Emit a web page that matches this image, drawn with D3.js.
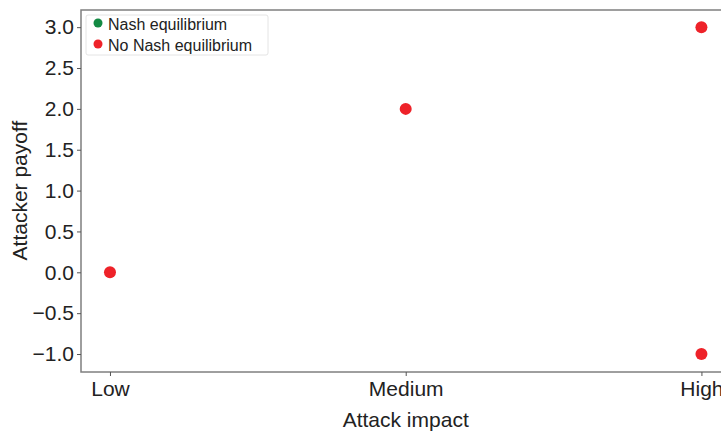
<!DOCTYPE html>
<html>
<head>
<meta charset="utf-8">
<script src="https://cdn.jsdelivr.net/npm/d3@7"></script>
<style>
  body { margin: 0; background: #fff; }
  svg { display: block; }
</style>
</head>
<body>
<div id="chart"></div>
<script>
// data
const impactLevels = ['Low', 'Medium', 'High'];
const pointImpact = ['Low', 'Medium', 'High', 'High'];
const pointPayoff = [0, 2, 3, -1];
const pointNash = [false, false, false, false];
const yTicks = [-1.0, -0.5, 0.0, 0.5, 1.0, 1.5, 2.0, 2.5, 3.0];
const legendLabels = ['Nash equilibrium', 'No Nash equilibrium'];
const legendColors = ['#138a43', '#ee2229'];

const WIDTH = 721;
const HEIGHT = 432;
const MARGIN = { top: 10, right: -10, bottom: 60, left: 81 };
const plotW = WIDTH - MARGIN.left - MARGIN.right;
const plotH = HEIGHT - MARGIN.top - MARGIN.bottom;
const FONT = 21;

const svg = d3.select('#chart')
    .append('svg')
        .attr('width', WIDTH)
        .attr('height', HEIGHT)
        .style('font-family', '"Liberation Sans", Arial, sans-serif');

const g = svg.append('g')
    .attr('transform', 'translate(' + MARGIN.left + ',' + MARGIN.top + ')');

const x = d3.scaleLinear()
    .domain([-0.098, 2.1])
    .range([0, plotW]);

const y = d3.scaleLinear()
    .domain([-1.22, 3.21])
    .range([plotH, 0]);

// frame
g.append('rect')
    .attr('x', 0)
    .attr('y', 0)
    .attr('width', plotW)
    .attr('height', plotH)
    .attr('fill', 'none')
    .attr('stroke', '#7f7f7f')
    .attr('stroke-width', 1.5);

// x axis
const xAxis = d3.axisBottom(x)
    .tickValues(impactLevels.map((d, i) => i))
    .tickFormat(i => impactLevels[i])
    .tickSizeOuter(0)
    .tickSize(4)
    .tickPadding(5);

const xg = g.append('g')
    .attr('transform', 'translate(0,' + plotH + ')')
    .call(xAxis);
xg.select('.domain').remove();
xg.selectAll('.tick line').attr('stroke', '#555');
xg.selectAll('.tick text')
    .attr('fill', '#222')
    .attr('font-size', FONT);

g.append('text')
    .text('Attack impact')
    .attr('text-anchor', 'middle')
    .attr('fill', '#222')
    .attr('font-size', FONT)
    .attr('x', x(1))
    .attr('y', plotH + 55);

// y axis
const yAxis = d3.axisLeft(y)
    .tickValues(yTicks)
    .tickFormat(d => d3.format('.1f')(d).replace('-', '\u2212'))
    .tickSizeOuter(0)
    .tickSize(4)
    .tickPadding(3);

const yg = g.append('g').call(yAxis);
yg.select('.domain').remove();
yg.selectAll('.tick line').attr('stroke', '#555');
yg.selectAll('.tick text')
    .attr('fill', '#222')
    .attr('font-size', FONT);

g.append('text')
    .text('Attacker payoff')
    .attr('transform', 'rotate(-90)')
    .attr('text-anchor', 'middle')
    .attr('fill', '#222')
    .attr('font-size', FONT)
    .attr('x', -y(1))
    .attr('y', -54);

// points
g.selectAll('circle.pt')
    .data(pointPayoff)
    .enter()
    .append('circle')
        .attr('class', 'pt')
        .attr('cx', (d, i) => x(impactLevels.indexOf(pointImpact[i])))
        .attr('cy', d => y(d))
        .attr('r', 6)
        .attr('fill', (d, i) => pointNash[i] ? legendColors[0] : legendColors[1]);

// legend
const legend = g.append('g')
    .attr('transform', 'translate(5,5)');

legend.append('rect')
    .attr('width', 182)
    .attr('height', 40)
    .attr('rx', 2)
    .attr('fill', '#fff')
    .attr('stroke', '#e4e4e4');

legendLabels.forEach((label, i) => {
    legend.append('circle')
        .attr('cx', 12)
        .attr('cy', 8 + i * 21)
        .attr('r', 4.5)
        .attr('fill', legendColors[i]);
    legend.append('text')
        .text(label)
        .attr('x', 22)
        .attr('y', 15 + i * 21)
        .attr('fill', '#222')
        .attr('font-size', 16);
});
</script>
</body>
</html>
